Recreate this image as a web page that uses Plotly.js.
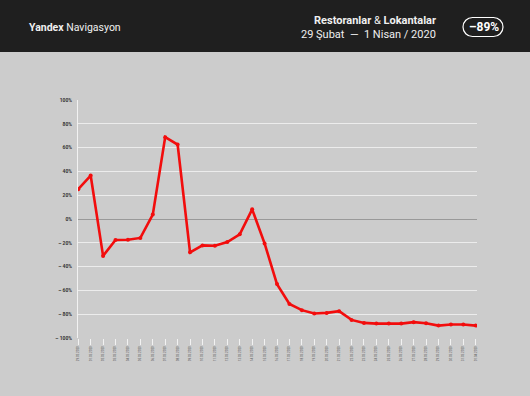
<!DOCTYPE html>
<html>
<head>
<meta charset="utf-8">
<script src="https://cdn.plot.ly/plotly-3.0.1.min.js"></script>
<style>html,body{margin:0;padding:0;background:#cccccc;}#chart{width:530px;height:396px;}</style>
</head>
<body>
<div id="chart"></div>
<script>
// Data
const dates = ["29.02.2020","01.03.2020","02.03.2020","03.03.2020","04.03.2020","05.03.2020","06.03.2020","07.03.2020","08.03.2020","09.03.2020","10.03.2020","11.03.2020","12.03.2020","13.03.2020","14.03.2020","15.03.2020","16.03.2020","17.03.2020","18.03.2020","19.03.2020","20.03.2020","21.03.2020","22.03.2020","23.03.2020","24.03.2020","25.03.2020","26.03.2020","27.03.2020","28.03.2020","29.03.2020","30.03.2020","31.03.2020","01.04.2020"];
const values = [25, 36.5, -31, -17.7, -17.4, -15.9, 3.7, 68.8, 62.6, -28, -22.2, -22.5, -19.4, -12.9, 8.1, -20.5, -54.7, -71.4, -76.6, -79.4, -78.9, -77.5, -84.8, -87.3, -87.9, -87.9, -87.9, -86.7, -87.6, -89.6, -88.6, -88.6, -89.6];
const yTickVals = [100, 80, 60, 40, 20, 0, -20, -40, -60, -80, -100];
const yTickText = ["100%","80%","60%","40%","20%","0%","– 20%","– 40%","– 60%","– 80%","– 100%"];

const W = 530, H = 396, L = 78, R = 53, T = 100, B = 58;
const pw = W - L - R, ph = H - T - B;
const px = x => (x - L) / pw;
const py = y => (H - B - y) / ph;

// badge capsule path (pixel -> paper)
function capsule(x0, y0, x1, y1) {
  const r = (y1 - y0) / 2, k = 0.5523 * r;
  const P = (x, y) => px(x).toFixed(5) + "," + py(y).toFixed(5);
  return "M" + P(x0 + r, y0) + " L" + P(x1 - r, y0) +
    " C" + P(x1 - r + k, y0) + " " + P(x1, y0 + r - k) + " " + P(x1, y0 + r) +
    " C" + P(x1, y0 + r + k) + " " + P(x1 - r + k, y1) + " " + P(x1 - r, y1) +
    " L" + P(x0 + r, y1) +
    " C" + P(x0 + r - k, y1) + " " + P(x0, y0 + r + k) + " " + P(x0, y0 + r) +
    " C" + P(x0, y0 + r - k) + " " + P(x0 + r - k, y0) + " " + P(x0 + r, y0) + " Z";
}

const idx = dates.map((d, i) => i);

const trace = {
  x: idx, y: values, type: "scatter", mode: "lines+markers",
  line: {color: "#f20d0d", width: 2.6},
  marker: {color: "#f20d0d", size: 4},
  hoverinfo: "skip"
};

const font = "Roboto, 'Liberation Sans', sans-serif";

const layout = {
  width: W, height: H,
  margin: {l: L, r: R, t: T, b: B, pad: 0},
  paper_bgcolor: "#cccccc", plot_bgcolor: "#cccccc",
  showlegend: false,
  font: {family: font},
  xaxis: {
    range: [-0.02, 32.1], tickmode: "array", tickvals: idx, ticktext: dates,
    tickangle: -90, tickfont: {size: 3, color: "#555555"},
    ticks: "outside", ticklen: 6, tickwidth: 1, tickcolor: "#f2f2f2",
    showgrid: false, zeroline: false, showline: false, fixedrange: true
  },
  yaxis: {
    range: [-100, 100], tickmode: "array", tickvals: yTickVals, ticktext: yTickText,
    tickfont: {size: 5, color: "#333333", weight: "bold"},
    ticks: "", showgrid: true, gridcolor: "#ececec", gridwidth: 1,
    zeroline: true, zerolinecolor: "#999999", zerolinewidth: 1,
    showline: true, linecolor: "#f2f2f2", linewidth: 1, ticklabelstandoff: 4, fixedrange: true
  },
  shapes: [
    {type: "rect", xref: "paper", yref: "paper", x0: px(0), x1: px(W), y0: py(52), y1: py(0),
     fillcolor: "#1f1f1f", line: {width: 0}, layer: "below"},
    {type: "path", xref: "paper", yref: "paper", path: capsule(463, 17.5, 503, 36.5),
     line: {color: "#ffffff", width: 1.2}, fillcolor: "rgba(0,0,0,0)"}
  ],
  annotations: [
    {xref: "paper", yref: "paper", x: px(27), y: py(27), xanchor: "left", yanchor: "middle",
     text: "<b>Yandex</b> Navigasyon", showarrow: false,
     font: {family: font, size: 10.5, color: "#f0f0f0"}},
    {xref: "paper", yref: "paper", x: px(438), y: py(20.5), xanchor: "right", yanchor: "middle",
     text: "<b>Restoranlar</b> & <b>Lokantalar</b>", showarrow: false,
     font: {family: font, size: 11, color: "#f0f0f0"}},
    {xref: "paper", yref: "paper", x: px(438), y: py(34.5), xanchor: "right", yanchor: "middle",
     text: "29 Şubat  —  1 Nisan / 2020", showarrow: false,
     font: {family: font, size: 11, color: "#f0f0f0"}},
    {xref: "paper", yref: "paper", x: px(483.5), y: py(27), xanchor: "center", yanchor: "middle",
     text: "<b>–89%</b>", showarrow: false,
     font: {family: font, size: 12, color: "#ffffff"}}
  ]
};

Plotly.newPlot("chart", [trace], layout, {displayModeBar: false, staticPlot: true});
</script>
</body>
</html>
